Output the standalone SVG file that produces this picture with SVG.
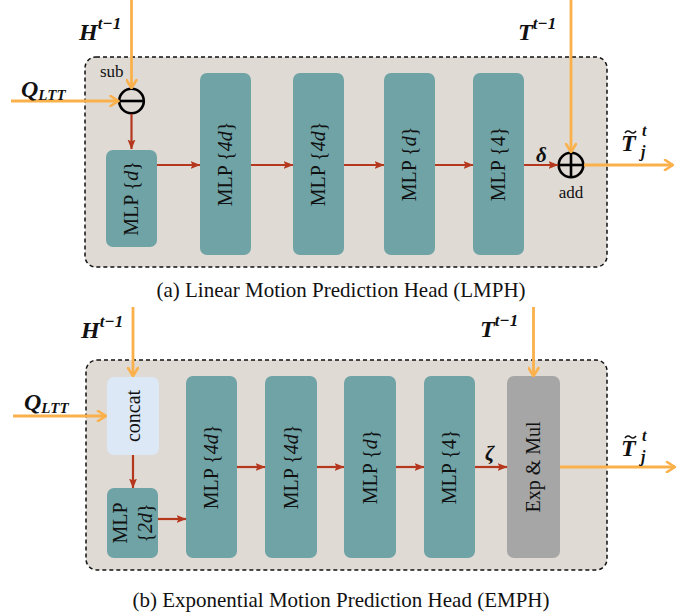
<svg xmlns="http://www.w3.org/2000/svg" width="694" height="616" viewBox="0 0 694 616">
<defs>
<style>
.panel{fill:#dfdad4;stroke:#111;stroke-width:1.5;stroke-dasharray:4 3}
.mlp{fill:#6fa3a6}
.concat{fill:#dde8f6}
.exp{fill:#a6a6a6}
.lbl{font-family:"Liberation Serif","DejaVu Serif",serif;font-size:20px;fill:#111;text-anchor:middle}
.math{font-family:"Liberation Serif","DejaVu Serif",serif;fill:#111;font-style:italic;font-weight:bold}
.small{font-family:"Liberation Serif","DejaVu Serif",serif;font-size:17px;fill:#111}
.cap{font-family:"Liberation Serif","DejaVu Serif",serif;font-size:21px;fill:#111;text-anchor:middle}
.or{stroke:#fbb14b;stroke-width:2.8;fill:none}
.rd{stroke:#b5381e;stroke-width:2.2;fill:none}
.op{fill:none;stroke:#000;stroke-width:2.6}
.tl{fill:none;stroke:#111;stroke-width:1.6}
</style>
<marker id="ao" viewBox="0 0 12 12" refX="11" refY="6" markerWidth="12" markerHeight="12" markerUnits="userSpaceOnUse" orient="auto">
<path d="M3,1 L11,6 L3,11" fill="none" stroke="#fbb14b" stroke-width="2.6" stroke-linecap="round" stroke-linejoin="round"/>
</marker>
<marker id="ar" viewBox="0 0 10 10" refX="9.5" refY="5" markerWidth="10" markerHeight="10" markerUnits="userSpaceOnUse" orient="auto">
<path d="M0,1 L10,5 L0,9 L2,5 Z" fill="#b5381e"/>
</marker>
</defs>

<!-- Panel (a) -->
<g id="panelA"><rect class="panel" x="85" y="57" width="522" height="210" rx="11"/></g>

<g id="sub">
<circle class="op" cx="131.5" cy="101" r="12.3"/>
<line class="op" x1="119.2" y1="101" x2="143.8" y2="101"/>
<text class="small" x="100" y="77">sub</text>
</g>
<g id="a_mlp_d">
<rect class="mlp" x="106" y="150" width="51" height="97" rx="7"/>
<text class="lbl" transform="translate(138.1,198.5) rotate(-90)">MLP {<tspan font-style="italic">d</tspan>}</text>
</g>
<g id="a_mlp_4d_1">
<rect class="mlp" x="200" y="73" width="51" height="182" rx="7"/>
<text class="lbl" transform="translate(232.1,164) rotate(-90)">MLP {<tspan font-style="italic">4d</tspan>}</text>
</g>
<g id="a_mlp_4d_2">
<rect class="mlp" x="293" y="73" width="51" height="182" rx="7"/>
<text class="lbl" transform="translate(325.1,164) rotate(-90)">MLP {<tspan font-style="italic">4d</tspan>}</text>
</g>
<g id="a_mlp_d2">
<rect class="mlp" x="384" y="73" width="51" height="182" rx="7"/>
<text class="lbl" transform="translate(416.1,164) rotate(-90)">MLP {<tspan font-style="italic">d</tspan>}</text>
</g>
<g id="a_mlp_4">
<rect class="mlp" x="473" y="73" width="51" height="182" rx="7"/>
<text class="lbl" transform="translate(505.1,164) rotate(-90)">MLP {4}</text>
</g>
<g id="add">
<circle class="op" cx="571" cy="165" r="12.3"/>
<line class="op" x1="558.7" y1="165" x2="583.3" y2="165"/>
<line class="op" x1="571" y1="152.7" x2="571" y2="177.3"/>
<text class="small" x="571" y="198" text-anchor="middle">add</text>
</g>

<!-- Panel (b) -->
<g id="panelB"><rect class="panel" x="86" y="360" width="521" height="210" rx="11"/></g>
<g id="concat">
<rect class="concat" x="107" y="377" width="52" height="78" rx="7"/>
<text class="lbl" transform="translate(139.6,416) rotate(-90)">concat</text>
</g>
<g id="b_mlp_2d">
<rect class="mlp" x="107" y="488" width="51" height="70" rx="7"/>
<text class="lbl" transform="translate(126.5,523) rotate(-90)">MLP</text>
<text class="lbl" transform="translate(151.5,523) rotate(-90)">{<tspan font-style="italic">2d</tspan>}</text>
</g>
<g id="b_mlp_4d_1">
<rect class="mlp" x="186" y="376" width="51" height="182" rx="7"/>
<text class="lbl" transform="translate(218.1,467) rotate(-90)">MLP {<tspan font-style="italic">4d</tspan>}</text>
</g>
<g id="b_mlp_4d_2">
<rect class="mlp" x="265" y="376" width="52" height="182" rx="7"/>
<text class="lbl" transform="translate(297.6,467) rotate(-90)">MLP {<tspan font-style="italic">4d</tspan>}</text>
</g>
<g id="b_mlp_d">
<rect class="mlp" x="344" y="376" width="52" height="182" rx="7"/>
<text class="lbl" transform="translate(376.6,467) rotate(-90)">MLP {<tspan font-style="italic">d</tspan>}</text>
</g>
<g id="b_mlp_4">
<rect class="mlp" x="424" y="376" width="51" height="182" rx="7"/>
<text class="lbl" transform="translate(456.1,467) rotate(-90)">MLP {4}</text>
</g>
<g id="expmul">
<rect class="exp" x="507" y="376" width="53" height="182" rx="7"/>
<text class="lbl" transform="translate(540.1,467) rotate(-90)">Exp &amp; Mul</text>
</g>

<!-- Connectors -->
<g id="connectors">
<line class="or" x1="131.5" y1="0" x2="131.5" y2="88" marker-end="url(#ao)"/>
<line class="or" x1="11" y1="101" x2="118.5" y2="101" marker-end="url(#ao)"/>
<line class="rd" x1="131.5" y1="114" x2="131.5" y2="149" marker-end="url(#ar)"/>
<line class="rd" x1="157" y1="165" x2="200" y2="165" marker-end="url(#ar)"/>
<line class="rd" x1="251" y1="165" x2="293" y2="165" marker-end="url(#ar)"/>
<line class="rd" x1="344" y1="165" x2="384" y2="165" marker-end="url(#ar)"/>
<line class="rd" x1="435" y1="165" x2="473" y2="165" marker-end="url(#ar)"/>
<line class="rd" x1="524" y1="165" x2="558" y2="165" marker-end="url(#ar)"/>
<line class="or" x1="571" y1="0" x2="571" y2="152" marker-end="url(#ao)"/>
<line class="or" x1="584" y1="165" x2="673" y2="165" marker-end="url(#ao)"/>

<line class="or" x1="133" y1="307" x2="133" y2="376" marker-end="url(#ao)"/>
<line class="or" x1="13" y1="416" x2="106" y2="416" marker-end="url(#ao)"/>
<line class="rd" x1="133" y1="455" x2="133" y2="488" marker-end="url(#ar)"/>
<line class="rd" x1="158" y1="519" x2="186" y2="519" marker-end="url(#ar)"/>
<line class="rd" x1="237" y1="467" x2="265" y2="467" marker-end="url(#ar)"/>
<line class="rd" x1="317" y1="467" x2="344" y2="467" marker-end="url(#ar)"/>
<line class="rd" x1="396" y1="467" x2="424" y2="467" marker-end="url(#ar)"/>
<line class="rd" x1="475" y1="467" x2="507" y2="467" marker-end="url(#ar)"/>
<line class="or" x1="533.5" y1="307" x2="533.5" y2="376" marker-end="url(#ao)"/>
<line class="or" x1="560" y1="467" x2="675" y2="467" marker-end="url(#ao)"/>
</g>

<!-- Math labels -->
<g id="labels">
<text class="math" x="79" y="40" font-size="24">H<tspan font-size="17" dy="-11">t−1</tspan></text>
<text class="math" x="21" y="97" font-size="24">Q<tspan font-size="15" dy="3">LTT</tspan></text>
<text class="math" x="518" y="40" font-size="24">T<tspan font-size="17" dy="-11">t−1</tspan></text>
<text class="math" x="621" y="151" font-size="24">T</text>
<path class="tl" d="M625,133 q2.5,-3.5 5.5,-1 t5.5,-1"/>
<text class="math" x="642" y="136" font-size="16">t</text>
<text class="math" x="641" y="157" font-size="16">j</text>
<text class="math" x="536" y="162" font-size="21" font-weight="normal">δ</text>

<text class="math" x="81" y="338" font-size="24">H<tspan font-size="17" dy="-11">t−1</tspan></text>
<text class="math" x="24" y="410" font-size="24">Q<tspan font-size="15" dy="3">LTT</tspan></text>
<text class="math" x="480" y="337" font-size="24">T<tspan font-size="17" dy="-11">t−1</tspan></text>
<text class="math" x="621" y="456" font-size="24">T</text>
<path class="tl" d="M625,438 q2.5,-3.5 5.5,-1 t5.5,-1"/>
<text class="math" x="642" y="441" font-size="16">t</text>
<text class="math" x="641" y="462" font-size="16">j</text>
<text class="math" x="485" y="460" font-size="21" font-weight="normal">ζ</text>
</g>

<g id="captions">
<text class="cap" x="341" y="297">(a)  Linear Motion Prediction Head (LMPH)</text>
<text class="cap" x="341" y="607">(b)  Exponential Motion Prediction Head (EMPH)</text>
</g>
</svg>
